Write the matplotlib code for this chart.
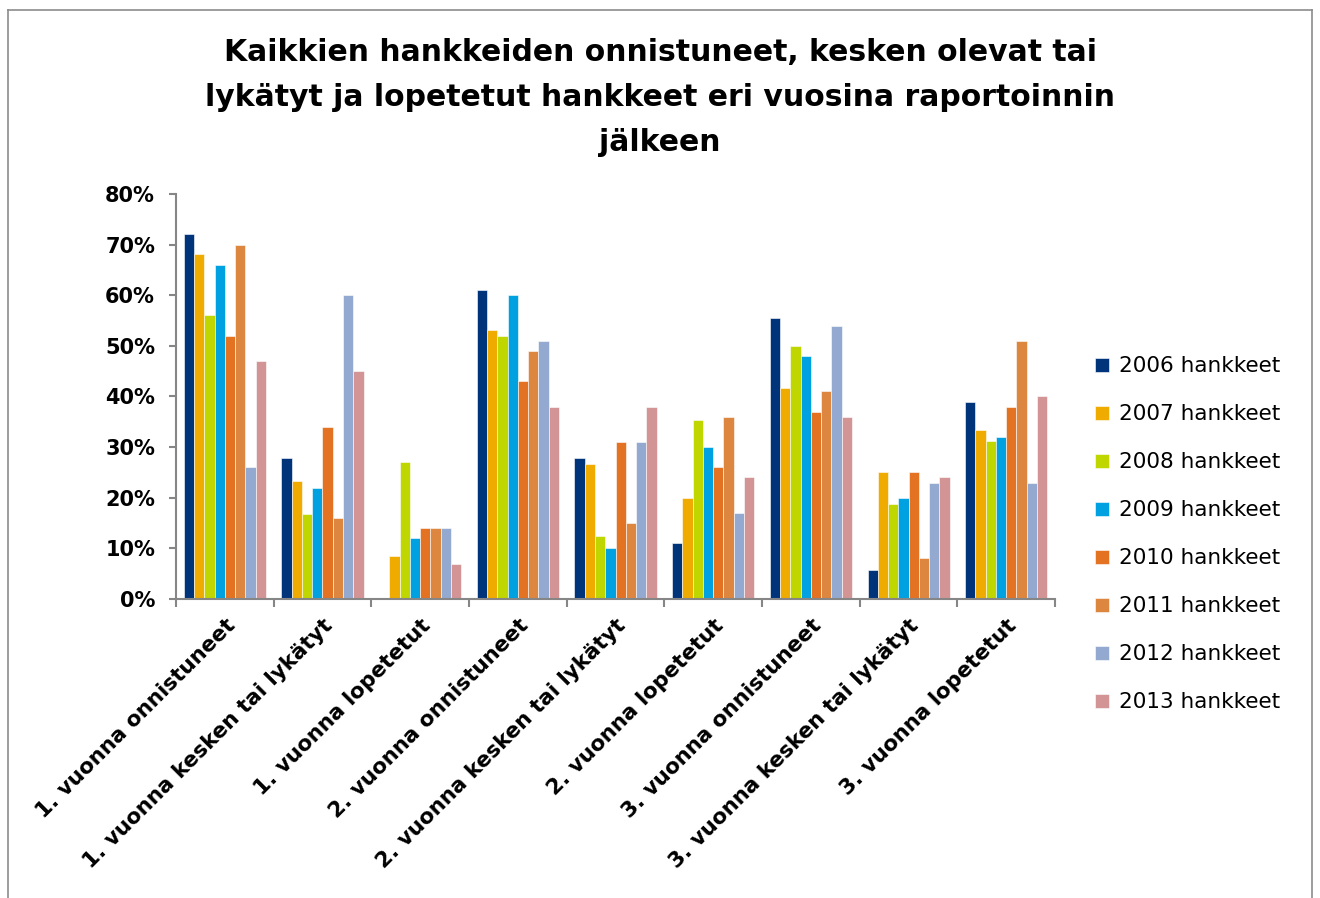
import matplotlib.pyplot as plt
import numpy as np
from matplotlib.lines import Line2D

plt.rcParams['font.family'] = 'DejaVu Sans'

# Data (percent)
categories = [
    '1. vuonna onnistuneet', '1. vuonna kesken tai lykätyt', '1. vuonna lopetetut',
    '2. vuonna onnistuneet', '2. vuonna kesken tai lykätyt', '2. vuonna lopetetut',
    '3. vuonna onnistuneet', '3. vuonna kesken tai lykätyt', '3. vuonna lopetetut',
]
series_names = ['2006 hankkeet', '2007 hankkeet', '2008 hankkeet', '2009 hankkeet',
                '2010 hankkeet', '2011 hankkeet', '2012 hankkeet', '2013 hankkeet']

h2006 = [72, 27.8, 0, 61, 27.8, 11.1, 55.5, 5.7, 38.9]
h2007 = [68.2, 23.3, 8.4, 53.2, 26.7, 20, 41.6, 25, 33.4]
h2008 = [56.1, 16.7, 27.1, 52, 12.5, 35.4, 50, 18.8, 31.2]
h2009 = [66, 22, 12, 60, 10, 30, 48, 20, 32]
h2010 = [52, 34, 14, 43, 31, 26, 37, 25, 38]
h2011 = [70, 16, 14, 49, 15, 36, 41, 8.1, 51]
h2012 = [26, 60, 14, 51, 31, 17, 54, 23, 23]
h2013 = [47, 45, 7, 38, 38, 24, 36, 24, 40]
values = [h2006, h2007, h2008, h2009, h2010, h2011, h2012, h2013]

colors = ['#00347a', '#f0ab00', '#c0d600', '#00a1e0',
          '#e37222', '#dd8640', '#94a9d0', '#d29494']

title = ('Kaikkien hankkeiden onnistuneet, kesken olevat tai\n'
         'lykätyt ja lopetetut hankkeet eri vuosina raportoinnin\n'
         'jälkeen')

fig = plt.figure(figsize=(13.2, 8.98), dpi=100)
ax = fig.add_axes([0.1333, 0.333, 0.666, 0.451])

x = np.arange(len(categories))
n = len(values)
bw = 0.84 / n
for i, (vals, c, name) in enumerate(zip(values, colors, series_names)):
    ax.bar(x - 0.42 + bw * (i + 0.5), vals, width=bw, color=c, label=name,
           edgecolor='white', linewidth=0.4)

ax.set_xlim(-0.5, len(categories) - 0.5)
ax.set_ylim(0, 80)
ax.set_yticks(np.arange(0, 81, 10))
ax.set_yticklabels([f'{v}%' for v in range(0, 81, 10)], fontsize=15, fontweight='bold')

# group boundary ticks like Excel
ax.set_xticks(np.arange(-0.5, len(categories), 1))
ax.set_xticklabels([])
ax.set_xticks(x, minor=True)
ax.set_xticklabels(categories, minor=True, rotation=45, ha='right',
                   rotation_mode='anchor', fontsize=15.5, fontweight='bold')
ax.tick_params(axis='x', which='minor', length=0, pad=12)
ax.tick_params(axis='x', which='major', length=6, width=1.5, color='#868686', direction='out')
ax.tick_params(axis='y', length=5, width=1.5, color='#868686', direction='out', pad=10)

for s in ['top', 'right']:
    ax.spines[s].set_visible(False)
for s in ['left', 'bottom']:
    ax.spines[s].set_color('#868686')
    ax.spines[s].set_linewidth(1.5)

fig.text(0.5, 0.891, title, ha='center', va='center', fontsize=21.5,
         fontweight='bold', linespacing=1.7)

leg = fig.legend(loc='center left', bbox_to_anchor=(0.815, 0.405), frameon=False,
                 fontsize=15.5, handlelength=0.65, handleheight=0.65, handletextpad=0.45,
                 labelspacing=1.3)

# chart area border
bc = '#8c8c8c'
fig.add_artist(Line2D([0.006, 0.006], [0, 0.989], color=bc, lw=1.2, transform=fig.transFigure))
fig.add_artist(Line2D([0.006, 0.994], [0.989, 0.989], color=bc, lw=1.2, transform=fig.transFigure))
fig.add_artist(Line2D([0.994, 0.994], [0, 0.989], color=bc, lw=1.2, transform=fig.transFigure))

plt.savefig('out.png', dpi=100)
plt.close()
